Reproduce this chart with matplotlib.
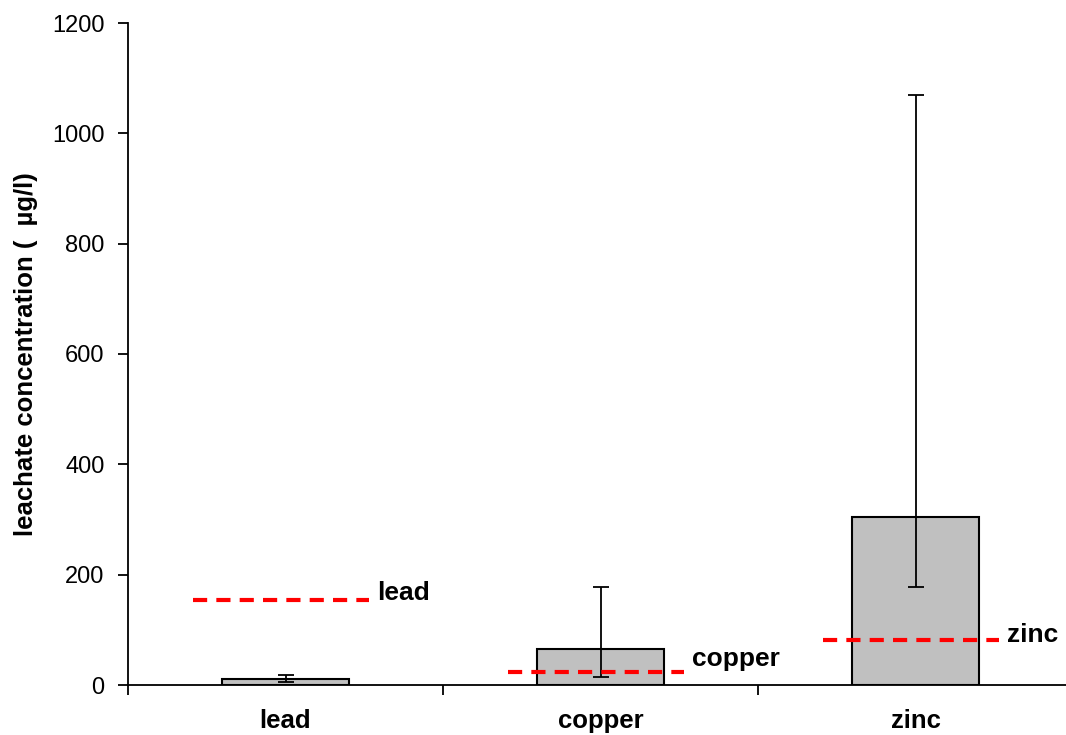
import matplotlib.pyplot as plt
import numpy as np

plt.rcParams['font.family'] = ['Liberation Sans', 'DejaVu Sans']

# values (ug/l)
metals = ['lead', 'copper', 'zinc']
means = [11, 65, 305]
err_low = [6, 50, 127]
err_high = [7, 113, 765]
limits = [154, 24, 82]
label_y = [167, 47, 91]

fig = plt.figure(figsize=(10.66, 7.35), dpi=100)
ax = fig.add_axes([128 / 1066, 50 / 735, 945 / 1066, 662 / 735])

x = np.arange(len(metals))
ax.bar(x, means, width=0.406, color='#c0c0c0', edgecolor='black', linewidth=1.5, zorder=2)
ax.errorbar(x, means, yerr=[err_low, err_high], fmt='none', ecolor='black',
            elinewidth=1.3, capsize=6, capthick=1.3, zorder=3)

for i, (lim, ly, name) in enumerate(zip(limits, label_y, metals)):
    ax.plot([i - 0.295, i + 0.265], [lim, lim], color='#ff0000', lw=3,
            linestyle=(0, (3.4, 2.2)), zorder=4)
    ax.text(i + 0.29, ly, name, fontsize=19, fontweight='bold', ha='left', va='center')

ax.set_xlim(-0.5, 2.5)
ax.set_ylim(0, 1200)
ax.set_yticks(range(0, 1201, 200))
ax.tick_params(axis='y', labelsize=17, direction='out', length=7, width=1.3, pad=10)
ax.set_xticks(x)
ax.set_xticklabels(metals, fontsize=18.5, fontweight='bold')
ax.tick_params(axis='x', length=0, pad=17)
ax.set_xticks([-0.5, 0.5, 1.5, 2.5], minor=True)
ax.tick_params(axis='x', which='minor', direction='out', length=7, width=1.3)

ax.spines['top'].set_visible(False)
ax.spines['right'].set_visible(False)
ax.spines['left'].set_linewidth(1.3)
ax.spines['bottom'].set_linewidth(1.3)

ax.set_ylabel('leachate concentration (  \u00b5g/l)', fontsize=18.5, fontweight='bold', labelpad=10)

fig.savefig('out.png', dpi=100)
